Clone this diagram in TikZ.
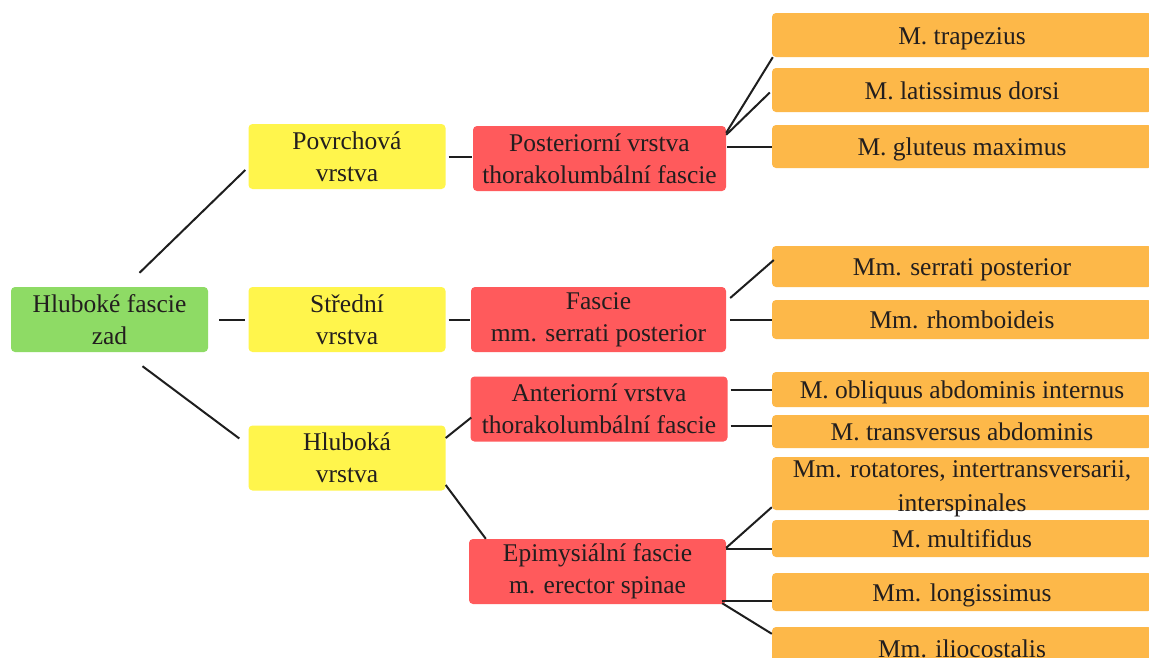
\documentclass[tikz,border=0pt]{standalone}
\usepackage{fontspec}
\setmainfont{Liberation Serif}
\usetikzlibrary{calc}
\definecolor{cgreen}{HTML}{8EDB65}
\definecolor{cyellow}{HTML}{FFF54C}
\definecolor{cred}{HTML}{FF5A5C}
\definecolor{corange}{HTML}{FDB849}
\definecolor{ctext}{HTML}{221E1E}
\definecolor{cline}{HTML}{1E1E1E}
\begin{document}
\begin{tikzpicture}[x=1pt,y=-1pt,
  box/.style={rectangle,rounded corners=4pt,inner sep=0pt,align=center,text=ctext,font=\fontsize{25.5}{32}\selectfont},
  lvlzero/.style={box,fill=cgreen,minimum width=197pt,minimum height=65pt},
  lvlone/.style={box,fill=cyellow,minimum width=197pt,minimum height=65pt},
  lvltwo/.style={box,fill=cred,minimum height=65pt},
  leaf/.style={box,fill=corange,minimum width=380pt,text height=22pt,text depth=4pt},
  conn/.style={draw=cline,line width=2pt}]
\useasboundingbox (0,0) rectangle (1149,657);
\fill[white] (0,0) rectangle (1149,657);
% level 0
\node[lvlzero] (g) at (109.5,319.5) {Hluboké fascie\\zad};
% level 1
\node[lvlone] (p1) at (347,156.5) {Povrchová\\vrstva};
\node[lvlone] (p2) at (347,319.5) {Střední\\vrstva};
\node[lvlone] (p3) at (347,458) {Hluboká\\vrstva};
% level 2
\node[lvltwo,minimum width=253pt] (r1) at (599.5,158.5) {Posteriorní vrstva\\thorakolumbální fascie};
\node[lvltwo,minimum width=255pt] (r2) at (598.5,319.5) {Fascie\\mm. serrati posterior};
\node[lvltwo,minimum width=257pt] (r3) at (599,409) {Anteriorní vrstva\\thorakolumbální fascie};
\node[lvltwo,minimum width=257pt] (r4) at (597.5,571.5) {Epimysiální fascie\\m. erector spinae};
% leaves
\node[leaf,minimum height=44pt] (o1) at (962,35) {M. trapezius};
\node[leaf,minimum height=44pt] (o2) at (962,90) {M. latissimus dorsi};
\node[leaf,minimum height=43pt] (o3) at (962,146.5) {M. gluteus maximus};
\node[leaf,minimum height=41pt] (o4) at (962,266.5) {Mm. serrati posterior};
\node[leaf,minimum height=39pt] (o5) at (962,319.5) {Mm. rhomboideis};
\node[leaf,minimum height=35pt] (o6) at (962,389.5) {M. obliquus abdominis internus};
\node[leaf,minimum height=33pt] (o7) at (962,431.5) {M. transversus abdominis};
\node[leaf,minimum height=53pt] (o8) at (962,483.5) {};
\node[box,font=\fontsize{25.5}{34}\selectfont] (t8) at (962,489) {Mm. rotatores, intertransversarii,\\interspinales};
\node[leaf,minimum height=37pt] (o9) at (962,538.5) {M. multifidus};
\node[leaf,minimum height=38pt] (o10) at (962,592) {Mm. longissimus};
\node[leaf,minimum height=43pt] (o11) at (962,648.5) {Mm. iliocostalis};
% connectors
\draw[conn] ($(g.north)+(30,-14)$) -- ($(p1.west)+(-3,13.5)$);
\draw[conn] ($(g.east)+(11,0)$) -- ($(p2.west)+(-3,0)$);
\draw[conn] ($(g.south)+(33,14)$) -- ($(p3.west)+(-9,-19.5)$);
\draw[conn] ($(p1.east)+(3,0)$) -- ($(p1.east -| r1.west)+(-1,0)$);
\draw[conn] ($(p2.east)+(3,0)$) -- ($(p2.east -| r2.west)+(-1,0)$);
\draw[conn] ($(p3.east)+(0,-20)$) -- ($(r3.west)+(1,8.5)$);
\draw[conn] ($(p3.east)+(0,27)$) -- ($(r4.north west)+(17,0)$);
\draw[conn] ($(r1.north east)+(0,7)$) -- ($(o1.south west)+(1,0)$);
\draw[conn] ($(r1.north east)+(0,9)$) -- ($(o2.west)+(-2,2.5)$);
\draw[conn] ($(o3.west -| r1.east)+(1,0)$) -- (o3.west);
\draw[conn] ($(r2.east)+(4,-21.5)$) -- ($(o4.west)+(2,-6.5)$);
\draw[conn] ($(o5.west -| r2.east)+(4,0)$) -- (o5.west);
\draw[conn] ($(o6.west -| r3.east)+(3,0)$) -- (o6.west);
\draw[conn] ($(o7.west -| r3.east)+(3,-5.5)$) -- ($(o7.west)+(0,-5.5)$);
\draw[conn] ($(r4.north east)+(0,9)$) -- ($(o8.south west)+(0,-3)$);
\draw[conn] ($(r4.north east)+(0,10)$) -- ($(r4.north east -| o9.west)+(0,10)$);
\draw[conn] ($(r4.south east)+(-4,-3)$) -- ($(r4.south east -| o10.west)+(0,-3)$);
\draw[conn] ($(r4.south east)+(-4,-1)$) -- ($(o11.north west)+(0,7)$);
\end{tikzpicture}
\end{document}
